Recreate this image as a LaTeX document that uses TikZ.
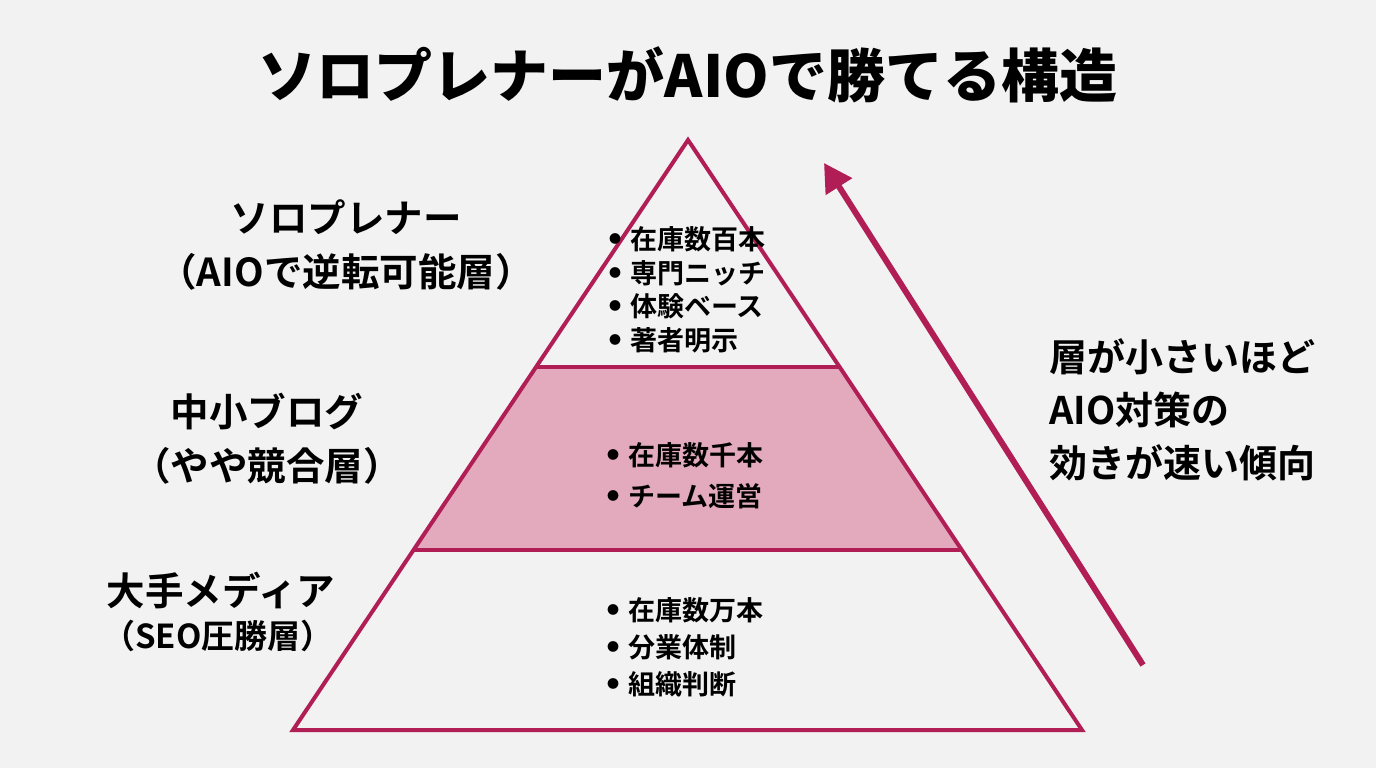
\documentclass[tikz,border=0pt]{standalone}
\usepackage{fontspec}
\setmainfont{Noto Sans CJK JP}[BoldFont=* Bold]
\newfontfamily\titlefont{Noto Sans CJK JP}[UprightFont=* Black]
\usetikzlibrary{arrows.meta}
\definecolor{crim}{HTML}{B01E55}
\definecolor{pinkfill}{HTML}{E3AABD}
\definecolor{bg}{HTML}{F2F2F2}
\newcommand\bul{\raisebox{0.22em}{\fontsize{12}{12}\selectfont ●}\hspace{9pt}}
\tikzset{
  edge/.style={draw=crim, line width=4pt, line join=miter},
  lbl/.style={font=\bfseries\fontsize{38.5}{54}\selectfont, align=center, inner sep=0pt},
  blist/.style={anchor=west, align=left, inner sep=0pt, font=\bfseries\fontsize{27}{33.5}\selectfont},
}
\begin{document}
\begin{tikzpicture}[x=1pt,y=-1pt]
\fill[bg] (0,0) rectangle (1376,768);
\useasboundingbox (0,0) rectangle (1376,768);
% title
\node[inner sep=0pt, font=\titlefont\fontsize{58}{62}\selectfont] (title) at (688,75) {ソロプレナーがAIOで勝てる構造};
% pyramid
\coordinate (apex) at (688,140);
\coordinate (bl) at (293,730);
\coordinate (br) at (1082,730);
\coordinate (ml1) at (536,367);
\coordinate (mr1) at (840,367);
\coordinate (ml2) at (414,550);
\coordinate (mr2) at (962,550);
\fill[pinkfill] (ml1) -- (mr1) -- (mr2) -- (ml2) -- cycle;
\draw[edge] (apex) -- (br) -- (bl) -- cycle;
\draw[edge] (ml1) -- (mr1);
\draw[edge] (ml2) -- (mr2);
% bullet lists
\node[blist] (top) at (609,290) {\bul 在庫数百本\\\bul 専門ニッチ\\\bul 体験ベース\\\bul 著者明示};
\node[blist, font=\bfseries\fontsize{27}{41}\selectfont] (mid) at (607,476) {\bul 在庫数千本\\\bul チーム運営};
\node[blist, font=\bfseries\fontsize{27}{37}\selectfont] (bot) at (607,647) {\bul 在庫数万本\\\bul 分業体制\\\bul 組織判断};
% left labels
\node[lbl] (l1) at (346,245) {ソロプレナー\\（AIOで逆転可能層）};
\node[lbl] (l2) at (267,439) {中小ブログ\\（やや競合層）};
\node[lbl] (l3a) at (221,590) {大手メディア};
\node[lbl, font=\bfseries\fontsize{33}{40}\selectfont] (l3b) at (218,636) {（SEO圧勝層）};
% arrow
\coordinate (as) at (1143,665);
\coordinate (ae) at (824,163);
\draw[crim, line width=6pt, -{Triangle[length=28pt,width=30pt]}] (as) -- (ae);
% right text
\node[lbl, anchor=west, align=left, font=\bfseries\fontsize{38}{53}\selectfont] (rt) at (1049,410) {層が小さいほど\\AIO対策の\\効きが速い傾向};
\end{tikzpicture}
\end{document}
